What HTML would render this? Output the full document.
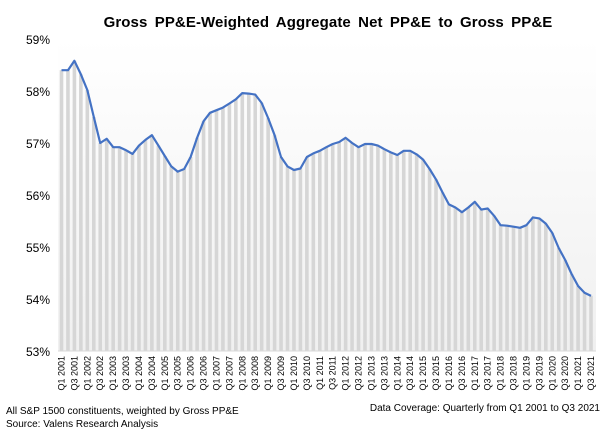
<!DOCTYPE html>
<html><head><meta charset="utf-8"><style>
body{margin:0;background:#fff;width:606px;height:443px;overflow:hidden;font-family:"Liberation Sans",sans-serif}
</style></head><body>
<svg id="chart" width="606" height="443" xmlns="http://www.w3.org/2000/svg">
<defs><linearGradient id="bg" x1="0" y1="0" x2="0" y2="1"><stop offset="0" stop-color="#ffffff"/><stop offset="1" stop-color="#f0f0f0"/></linearGradient></defs>
<text x="328" y="27" text-anchor="middle" font-size="15" font-weight="bold" fill="#000" word-spacing="3" letter-spacing="0.1">Gross PP&amp;E-Weighted  Aggregate  Net PP&amp;E  to Gross PP&amp;E</text>
<rect x="58" y="39" width="538" height="312" fill="url(#bg)"/>
<g id="bars"></g><g id="yticks"></g><g id="xticks"></g>
<path id="line" fill="none" stroke="#4472c4" stroke-width="2.2" stroke-linejoin="round"/>
<line x1="58" y1="351" x2="596" y2="351" stroke="#d9d9d9" stroke-width="1"/>
<text x="6" y="414" font-size="10" fill="#000">All S&amp;P 1500 constituents, weighted by Gross PP&amp;E</text>
<text x="6" y="427" font-size="10" fill="#000">Source: Valens Research Analysis</text>
<text x="600" y="411" text-anchor="end" font-size="10" fill="#000">Data Coverage: Quarterly from Q1 2001 to Q3 2021</text>
</svg>
<script>
const values=[58.40,58.40,58.58,58.32,58.02,57.5,57.0,57.08,56.92,56.92,56.86,56.79,56.95,57.06,57.15,56.95,56.75,56.55,56.45,56.5,56.73,57.1,57.42,57.58,57.63,57.68,57.76,57.84,57.96,57.95,57.93,57.77,57.48,57.15,56.73,56.55,56.48,56.51,56.73,56.8,56.85,56.92,56.98,57.02,57.1,57.0,56.92,56.98,56.98,56.95,56.88,56.82,56.77,56.85,56.85,56.78,56.68,56.5,56.3,56.05,55.82,55.76,55.67,55.76,55.87,55.72,55.74,55.6,55.42,55.41,55.39,55.37,55.42,55.57,55.55,55.45,55.27,54.98,54.75,54.48,54.25,54.12,54.06];
const yTicks=[53,54,55,56,57,58,59];
const startYear=2001;
const NS="http://www.w3.org/2000/svg";
const y=v=>351-(v-53)*52;
const x=i=>61.5+i*(529.5/(values.length-1));
const bars=document.getElementById('bars'),yt=document.getElementById('yticks'),xt=document.getElementById('xticks');
let d='';
values.forEach((v,i)=>{
 const r=document.createElementNS(NS,'rect');
 r.setAttribute('x',x(i)-1.8);r.setAttribute('y',y(v));r.setAttribute('width',3.6);r.setAttribute('height',351-y(v));r.setAttribute('fill','#d6d6d6');
 
 
 bars.appendChild(r);
 d+=(i?'L':'M')+x(i).toFixed(1)+','+y(v).toFixed(1);
 if(i%2===0){
  const q=(i%4===0)?'Q1':'Q3';const yr=startYear+Math.floor(i/4);
  const t=document.createElementNS(NS,'text');
  t.setAttribute('transform','translate('+(x(i)+3)+',356) rotate(-90)');
  t.setAttribute('text-anchor','end');t.setAttribute('font-size','9');t.setAttribute('fill','#000');
  t.textContent=q+' '+yr;
  
  
  xt.appendChild(t);
 }
});
document.getElementById('line').setAttribute('d',d);
yTicks.forEach(v=>{
 const t=document.createElementNS(NS,'text');
 t.setAttribute('x',50);t.setAttribute('y',y(v)+5);t.setAttribute('text-anchor','end');t.setAttribute('font-size','12');t.setAttribute('fill','#000');
 t.textContent=v+'%';
 
 
 yt.appendChild(t);
});
</script>
</body></html>
